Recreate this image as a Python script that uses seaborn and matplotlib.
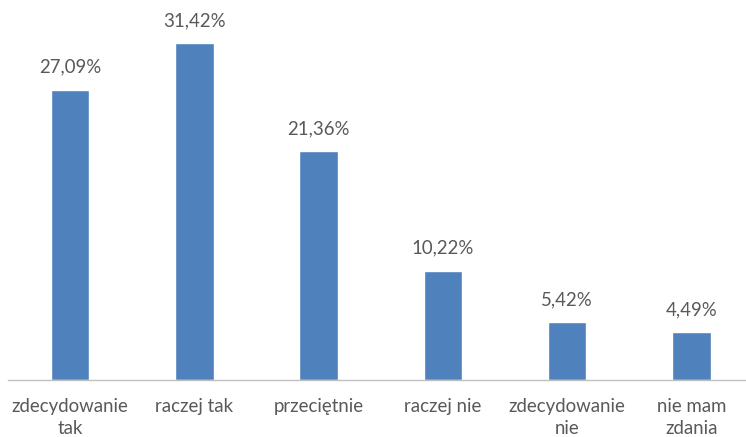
import matplotlib
matplotlib.use("Agg")
import matplotlib.pyplot as plt
import seaborn as sns
import pandas as pd

categories = ["zdecydowanie\ntak", "raczej tak", "przeciętnie", "raczej nie", "zdecydowanie\nnie", "nie mam\nzdania"]
values = [27.09, 31.42, 21.36, 10.22, 5.42, 4.49]
labels = ["27,09%", "31,42%", "21,36%", "10,22%", "5,42%", "4,49%"]

sns.set_theme(style="white")
plt.rcParams['font.family'] = ['Lato', 'DejaVu Sans']

df = pd.DataFrame({"cat": categories, "val": values})

fig = plt.figure(figsize=(7.46, 4.37), dpi=100)
ax = fig.add_axes([8/746, 57/437, 738/746, 375/437])
sns.barplot(data=df, x="cat", y="val", color="#4F81BD", saturation=1, width=0.31, ax=ax)
ax.set_ylim(0, 35)
ax.set_xlim(-0.5, 5.44)
ax.bar_label(ax.containers[0], labels=labels, padding=10, fontsize=13.4, color="#595959")
for s in ["top", "right", "left"]:
    ax.spines[s].set_visible(False)
ax.spines["bottom"].set_color("#BFBFBF")
ax.spines["bottom"].set_linewidth(1)
ax.set_yticks([])
ax.set_xlabel("")
ax.set_ylabel("")
ax.tick_params(axis="x", length=0, pad=13, labelsize=13.4, labelcolor="#595959")
for t in ax.get_xticklabels():
    t.set_linespacing(1.35)
fig.savefig("out.png", dpi=100)
